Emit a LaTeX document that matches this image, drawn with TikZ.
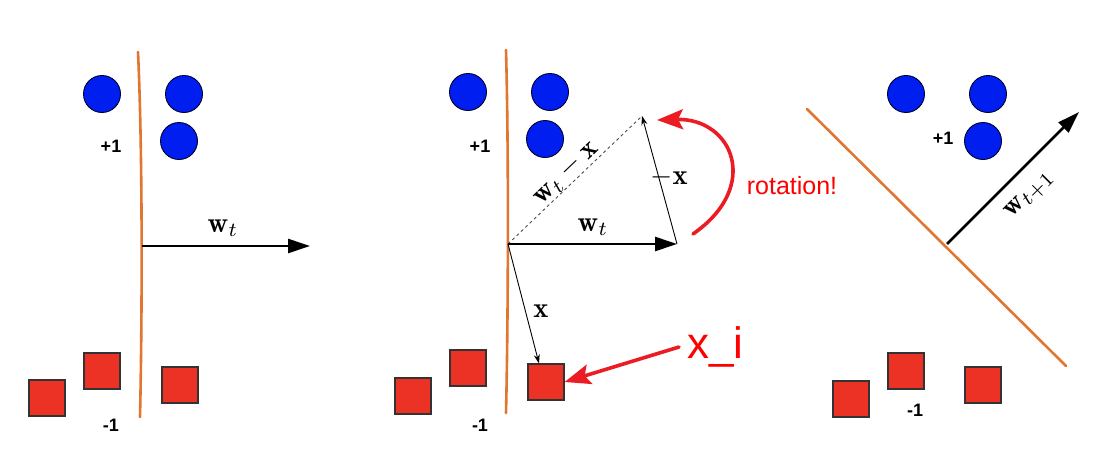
\documentclass[tikz,border=0pt]{standalone}
\usepackage{fontspec}
\usepackage{amsmath}
\usepackage{graphicx}
\usetikzlibrary{arrows.meta}
\newfontfamily\labfont{Liberation Sans}
\newcommand{\mylabmath}[1]{\scalebox{2.85}{$#1$}}
\definecolor{dotblue}{RGB}{0,30,240}
\definecolor{sqred}{RGB}{236,50,36}
\definecolor{sepor}{RGB}{224,118,48}
\definecolor{annred}{RGB}{236,28,36}
\begin{document}
\begin{tikzpicture}[x=1pt,y=-1pt,
  posdot/.style={circle,draw=black!80!blue,line width=0.9pt,fill=dotblue,minimum size=37pt,inner sep=0pt},
  negsq/.style={rectangle,draw=black!80,line width=1.1pt,fill=sqred,minimum size=36pt,inner sep=0pt},
  sepline/.style={draw=sepor,line width=2.6pt,line cap=round},
  wvec/.style={draw=black,line width=2.6pt,-{Triangle[length=22pt,width=14pt]}},
  thinvec/.style={draw=black,line width=0.9pt,-{Stealth[length=9pt,width=6pt]}},
  cls/.style={font=\labfont\bfseries\fontsize{18}{20}\selectfont,inner sep=0pt},
  mlab/.style={inner sep=0.5pt},
  ann/.style={draw=annred,line width=3.6pt,-{Stealth[length=26pt,width=20pt,inset=5pt]}},
  anntext/.style={text=red,inner sep=0pt}]
\useasboundingbox (0,0) rectangle (1119,474);
% ---------- panel 1 ----------
\draw[sepline] (138,52) .. controls (143,160) and (142,330) .. (140,417);
\node[posdot] (a1) at (102,94) {};
\node[posdot] (a2) at (184,94) {};
\node[posdot] (a3) at (179,141) {};
\node[cls] (ap) at (111,146) {+1};
\node[negsq] (an1) at (47,398) {};
\node[negsq] (an2) at (102,371) {};
\node[negsq] (an3) at (180,385) {};
\node[cls] (am) at (111,425) {-1};
\coordinate (o1) at (142,246);
\coordinate (w1) at (310,246);
\draw[wvec] (o1) -- (w1);
\node[mlab] (l1) at (223,228) {\mylabmath{\mathbf{w}_{t}}};
% ---------- panel 2 ----------
\draw[sepline] (506,50) .. controls (509,160) and (508,330) .. (506,413);
\node[posdot] (b1) at (468,92) {};
\node[posdot] (b2) at (550,92) {};
\node[posdot] (b3) at (545,139) {};
\node[cls] (bp) at (480,146) {+1};
\node[negsq] (bn1) at (413,396) {};
\node[negsq] (bn2) at (468,368) {};
\node[negsq] (bn3) at (546,382) {};
\node[cls] (bm) at (480,425) {-1};
\coordinate (o2) at (508,244);
\coordinate (w2) at (677,244);
\coordinate (p2) at (642,116);
\draw[black!70,line width=0.9pt,dashed] (o2) -- (p2);
\node[mlab,rotate=43.7] (l2) at (566,173) {\mylabmath{\mathbf{w}_{t}-\mathbf{x}}};
\draw[wvec] (o2) -- (w2);
\node[mlab] (l3) at (593,227) {\mylabmath{\mathbf{w}_{t}}};
\draw[thinvec] (w2) -- (p2);
\node[mlab] (mx) at (669,177) {\mylabmath{-\mathbf{x}}};
\draw[thinvec] (o2) -- ([xshift=-7pt]bn3.north);
\node[mlab] (xl) at (541,311) {\mylabmath{\mathbf{x}}};
\coordinate (rs) at (693,234);
\coordinate (re) at (657,120);
\draw[ann,line cap=round] (rs) .. controls (762,186) and (732,118) .. (re);
\node[anntext,font=\labfont\fontsize{25}{28}\selectfont] (rot) at (792,186) {rotation!};
\node[anntext,font=\labfont\fontsize{44}{48}\selectfont,anchor=base west] (xi) at (687,358) {x\_i};
\coordinate (xs) at (679,347);
\draw[ann,line cap=round] (xs) -- (bn3.east);
% ---------- panel 3 ----------
\draw[sepline] (807,109) -- (1066,366);
\node[posdot] (c1) at (906,94) {};
\node[posdot] (c2) at (988,94) {};
\node[posdot] (c3) at (983,141) {};
\node[cls] (cp) at (943,138) {+1};
\node[negsq] (cn1) at (851,399) {};
\node[negsq] (cn2) at (906,371) {};
\node[negsq] (cn3) at (983,385) {};
\node[cls] (cm) at (915,410) {-1};
\coordinate (o3) at (947,244);
\coordinate (w3) at (1079,112);
\draw[wvec] (o3) -- (w3);
\node[mlab,rotate=45] (l4) at (1030,195) {\mylabmath{\mathbf{w}_{t+1}}};
\end{tikzpicture}
\end{document}
